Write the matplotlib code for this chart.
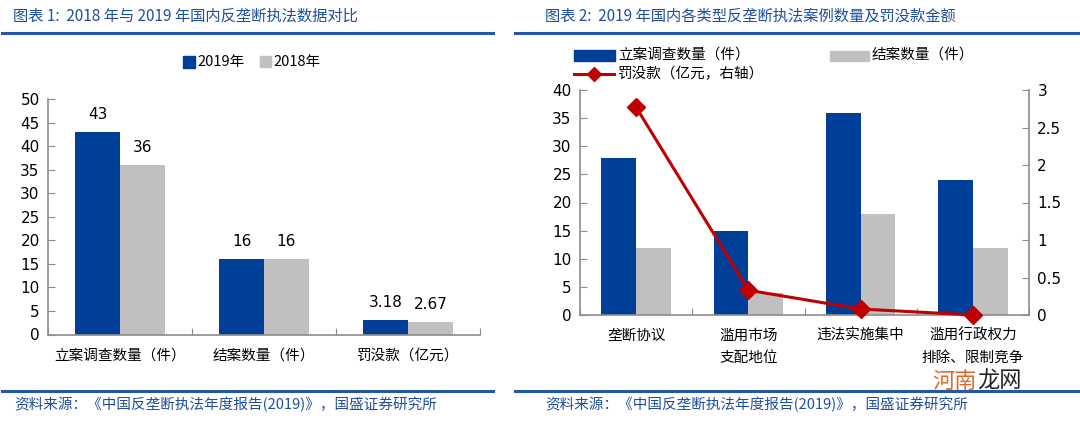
import matplotlib
matplotlib.use("Agg")
import matplotlib.pyplot as plt
import numpy as np
from matplotlib.patches import Rectangle
from matplotlib.lines import Line2D

plt.rcParams['font.family'] = ['DejaVu Sans', 'Noto Sans CJK SC']

# ---------------- data ----------------
left_categories = ["立案调查数量（件）", "结案数量（件）", "罚没款（亿元）"]
left_2019 = [43, 16, 3.18]
left_2018 = [36, 16, 2.67]
left_labels_2019 = ["43", "16", "3.18"]
left_labels_2018 = ["36", "16", "2.67"]
left_yticks = [0, 5, 10, 15, 20, 25, 30, 35, 40, 45, 50]

right_categories = ["垄断协议", "滥用市场\n支配地位", "违法实施集中", "滥用行政权力\n排除、限制竞争"]
right_filed = [28, 15, 36, 24]
right_closed = [12, 4, 18, 12]
right_fines = [2.77, 0.33, 0.08, 0.0]
right_yticks = [0, 5, 10, 15, 20, 25, 30, 35, 40]
right_y2ticks = [0, 0.5, 1, 1.5, 2, 2.5, 3]
right_y2labels = ["0", "0.5", "1", "1.5", "2", "2.5", "3"]

BLUE = "#003F98"
GRAY = "#C0C0C0"
RED = "#C00000"
TBLUE = "#1F4E9E"
SPINE = "#8C8C8C"
CJK = ['Noto Sans CJK SC', 'DejaVu Sans']

W, H = 1080, 421
fig = plt.figure(figsize=(W / 100, H / 100), dpi=100)
fig.patch.set_facecolor("white")


def fx(x):
    return x / W


def fy(y):
    return 1 - y / H


def axes_px(x0, y0, x1, y1):
    return fig.add_axes([fx(x0), fy(y1), fx(x1 - x0), (y1 - y0) / H])


# ---------------- headers / footers ----------------
for (a, b) in [(2, 493), (515, 1080)]:
    fig.add_artist(Line2D([fx(a), fx(b)], [fy(33), fy(33)], color="#2457A6", lw=2.2))
    fig.add_artist(Line2D([fx(a), fx(b)], [fy(391), fy(391)], color="#2457A6", lw=2.2))

fig.text(fx(13), fy(16), "图表 1:  2018 年与 2019 年国内反垄断执法数据对比", color=TBLUE,
         fontsize=11, fontstyle="italic", family=CJK, va="center", ha="left")
fig.text(fx(545), fy(16), "图表 2:  2019 年国内各类型反垄断执法案例数量及罚没款金额", color=TBLUE,
         fontsize=11, fontstyle="italic", family=CJK, va="center", ha="left")
src = "资料来源：《中国反垄断执法年度报告(2019)》，国盛证券研究所"
fig.text(fx(14), fy(404), src, color=TBLUE, fontsize=10.5, fontstyle="italic",
         family=CJK, va="center", ha="left")
fig.text(fx(545), fy(404), src, color=TBLUE, fontsize=10.5, fontstyle="italic",
         family=CJK, va="center", ha="left")

# ---------------- left chart ----------------
ax1 = axes_px(48, 99, 480, 334.5)
x = np.arange(len(left_categories))
bw = 0.31
b1 = ax1.bar(x - bw / 2, left_2019, bw, color=BLUE, edgecolor=BLUE, linewidth=0)
b2 = ax1.bar(x + bw / 2, left_2018, bw, color=GRAY, edgecolor=GRAY, linewidth=0)
for rect, lab in zip(b1, left_labels_2019):
    ax1.annotate(lab, (rect.get_x() + rect.get_width() / 2, rect.get_height()),
                 xytext=(0, 7), textcoords="offset points", ha="center", va="bottom", fontsize=11)
for rect, lab in zip(b2, left_labels_2018):
    ax1.annotate(lab, (rect.get_x() + rect.get_width() / 2, rect.get_height()),
                 xytext=(0, 7), textcoords="offset points", ha="center", va="bottom", fontsize=11)
ax1.set_xlim(-0.5, len(left_categories) - 0.5)
ax1.set_ylim(0, 50)
ax1.set_yticks(left_yticks)
ax1.set_xticks(np.arange(len(left_categories) + 1) - 0.5)
ax1.set_xticklabels([])
ax1.set_xticks(x, minor=True)
ax1.set_xticklabels(left_categories, minor=True, family=CJK, fontsize=10.5)
ax1.tick_params(axis="x", which="minor", length=0, pad=10)
ax1.tick_params(axis="x", which="major", direction="in", length=5, color=SPINE)
ax1.tick_params(axis="y", direction="in", length=5, color=SPINE, labelsize=11, pad=6)
for s in ["top", "right"]:
    ax1.spines[s].set_visible(False)
for s in ["left", "bottom"]:
    ax1.spines[s].set_color(SPINE)
    ax1.spines[s].set_linewidth(1.2)

# left legend
fig.add_artist(Rectangle((fx(183), fy(68)), fx(12), 12 / H, transform=fig.transFigure,
                         color=BLUE))
fig.text(fx(197), fy(62), "2019年", family=CJK, fontsize=10.5, va="center", ha="left")
fig.add_artist(Rectangle((fx(260), fy(67)), fx(11), 11 / H, transform=fig.transFigure,
                         color=GRAY))
fig.text(fx(273), fy(62), "2018年", family=CJK, fontsize=10.5, va="center", ha="left")

# ---------------- right chart ----------------
ax2 = axes_px(580, 90, 1029, 315)
x2 = np.arange(len(right_categories))
bw2 = 0.31
ax2.bar(x2 - bw2 / 2, right_filed, bw2, color=BLUE, linewidth=0)
ax2.bar(x2 + bw2 / 2, right_closed, bw2, color=GRAY, linewidth=0)
ax2.set_xlim(-0.5, len(right_categories) - 0.5)
ax2.set_ylim(0, 40)
ax2.set_yticks(right_yticks)
ax2.set_xticks(np.arange(len(right_categories) + 1) - 0.5)
ax2.set_xticklabels([])
ax2.set_xticks(x2, minor=True)
ax2.set_xticklabels(right_categories, minor=True, family=CJK, fontsize=10.5, linespacing=1.7,
                    va="top")
ax2.tick_params(axis="x", which="minor", length=0, pad=10)
ax2.tick_params(axis="x", which="major", direction="in", length=5, color=SPINE)
ax2.tick_params(axis="y", direction="in", length=5, color=SPINE, labelsize=11, pad=6)
ax2.spines["top"].set_visible(False)
ax2.spines["right"].set_visible(False)
for s in ["left", "bottom"]:
    ax2.spines[s].set_color(SPINE)
    ax2.spines[s].set_linewidth(1.2)

ax3 = ax2.twinx()
ax3.plot(x2, right_fines, color=RED, lw=2.2, marker="D", markersize=9,
         markerfacecolor=RED, markeredgecolor=RED, clip_on=False, zorder=5)
ax3.set_ylim(0, 3)
ax3.set_yticks(right_y2ticks)
ax3.set_yticklabels(right_y2labels)
ax3.tick_params(axis="y", direction="in", length=5, color=SPINE, labelsize=11, pad=6)
for s in ["top", "left", "bottom"]:
    ax3.spines[s].set_visible(False)
ax3.spines["right"].set_color(SPINE)
ax3.spines["right"].set_linewidth(1.2)

# right legend
fig.add_artist(Rectangle((fx(574), fy(61)), fx(41), 11 / H, transform=fig.transFigure,
                         color=BLUE))
fig.text(fx(618), fy(55), "立案调查数量（件）", family=CJK, fontsize=10.5, va="center", ha="left")
fig.add_artist(Rectangle((fx(830), fy(61)), fx(39), 10 / H, transform=fig.transFigure,
                         color=GRAY))
fig.text(fx(872), fy(55), "结案数量（件）", family=CJK, fontsize=10.5, va="center", ha="left")
fig.add_artist(Line2D([fx(574), fx(614)], [fy(74), fy(74)], color=RED, lw=2.2))
fig.add_artist(Line2D([fx(594)], [fy(74)], color=RED, marker="D", markersize=7))
fig.text(fx(618), fy(74), "罚没款（亿元，右轴）", family=CJK, fontsize=10.5, va="center", ha="left")

# watermark
fig.text(fx(932), fy(381), "河南", family=CJK, fontsize=16, color="#E06A2C", va="center", ha="left")
fig.text(fx(977), fy(381), "龙网", family=CJK, fontsize=16, color="#222222", va="center", ha="left")

fig.savefig("out.png", dpi=100, facecolor="white")
